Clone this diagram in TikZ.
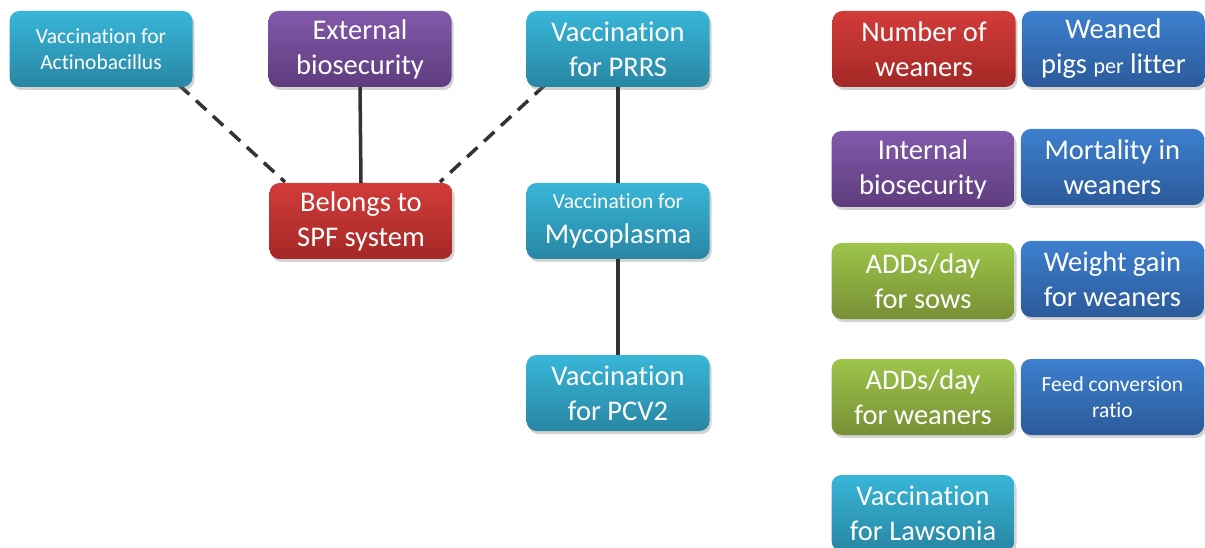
\documentclass[tikz,border=0pt]{standalone}
\usepackage{fontspec}
\setmainfont{Carlito}[Ligatures=NoCommon]
\usepackage{tikz}
\usetikzlibrary{positioning,shadows}

\definecolor{cyantop}{HTML}{38B6D8}
\definecolor{cyanbot}{HTML}{2886A3}
\definecolor{purptop}{HTML}{8259AA}
\definecolor{purpbot}{HTML}{5E3D7E}
\definecolor{redtop}{HTML}{D23C3A}
\definecolor{redbot}{HTML}{A32826}
\definecolor{bluetop}{HTML}{3D80CE}
\definecolor{bluebot}{HTML}{2B5A9A}
\definecolor{greentop}{HTML}{9DC54B}
\definecolor{greenbot}{HTML}{778F35}
\definecolor{linkgray}{HTML}{333333}

\newcommand{\bigtxt}{\fontsize{28.5}{35}\selectfont}
\newcommand{\smalltxt}{\fontsize{21.5}{26}\selectfont}

\begin{document}
\begin{tikzpicture}[x=1pt, y=-1pt,
      box/.style={rounded corners=10pt, align=center, text=white,
        minimum width=183pt, minimum height=76pt, inner sep=2pt, font=\bigtxt,
        drop shadow={opacity=0.35, shadow xshift=2pt, shadow yshift=-3pt}},
      cyanbox/.style={box, top color=cyantop, bottom color=cyanbot},
      purpbox/.style={box, top color=purptop, bottom color=purpbot},
      redbox/.style={box, top color=redtop, bottom color=redbot},
      bluebox/.style={box, top color=bluetop, bottom color=bluebot},
      greenbox/.style={box, top color=greentop, bottom color=greenbot},
      link/.style={draw=linkgray, line width=3.5pt},
      dashlink/.style={link, dash pattern=on 14pt off 9pt},
    ]
      \useasboundingbox (0,0) rectangle (1205,548);
      % connectors first, so that the boxes sit on top
      \coordinate (aend) at (179,85);
      \coordinate (pend) at (545,85);
      \draw[dashlink] (aend) -- (285,182) coordinate (sl);
      \draw[dashlink] (pend) -- (440,182) coordinate (sr);
      \node[redbox] (spf) at (361,221) {Belongs to\\SPF system};
      \node[cyanbox, font=\smalltxt] (actino) at (101,49) {Vaccination for\\Actinobacillus};
      \node[purpbox] (extbio) at (360,49) {External\\biosecurity};
      \node[cyanbox] (prrs) at (618,49) {Vaccination\\for PRRS};
      \node[cyanbox] (myco) at (618,221) {{\smalltxt Vaccination for}\\Mycoplasma};
      \node[cyanbox] (pcv) at (618,393) {Vaccination\\for PCV2};
      \draw[link] (extbio.south) -- (spf.north);
      \draw[link] (prrs.south) -- (myco.north);
      \draw[link] (myco.south) -- (pcv.north);
      % outcome and factor boxes
      \node[redbox] (numwean) at (924,49) {Number of\\weaners};
      \node[bluebox, right=6pt of numwean] (pigslitter) {Weaned\\pigs {\fontsize{22}{26}\selectfont per} litter};
      \node[purpbox] (intbio) at (923,169) {Internal\\biosecurity};
      \node[bluebox, right=6pt of intbio, yshift=2pt] (mortality) {Mortality in\\weaners};
      \node[greenbox] (addsows) at (923,281) {ADDs/day\\for sows};
      \node[bluebox, right=6pt of addsows, yshift=2pt] (weightgain) {Weight gain\\for weaners};
      \node[greenbox] (addwean) at (923,397) {ADDs/day\\for weaners};
      \node[bluebox, right=6pt of addwean, font=\smalltxt] (fcr) {Feed conversion\\ratio};
      \node[cyanbox] (lawsonia) at (923,513) {Vaccination\\for Lawsonia};
    \end{tikzpicture}
\end{document}
